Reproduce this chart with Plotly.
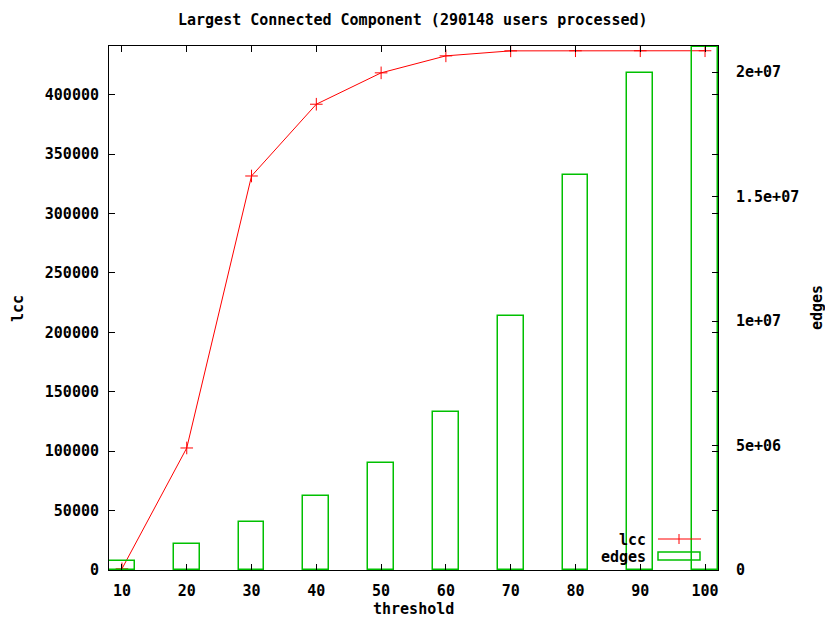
import plotly.graph_objects as go

thresholds = [10, 20, 30, 40, 50, 60, 70, 80, 90, 100]
lcc = [1000, 102700, 331600, 392000, 418400, 432700, 436900, 437000, 437000, 437000]
edges = [360000, 1040000, 1930000, 2970000, 4300000, 6350000, 10200000, 15860000, 19960000, 21000000]

x_ticks = [10, 20, 30, 40, 50, 60, 70, 80, 90, 100]
y_ticks = [0, 50000, 100000, 150000, 200000, 250000, 300000, 350000, 400000]
y_labels = [str(v) for v in y_ticks]
y2_ticks = [0, 5e6, 1e7, 1.5e7, 2e7]
y2_labels = ["0", "5e+06", "1e+07", "1.5e+07", "2e+07"]

RED = "#ff0000"
GREEN = "#00c000"
FONT = dict(family="DejaVu Sans Mono", size=15, color="black", weight="bold")

# plot area in pixels
L, R, T, B = 109, 718, 46, 570
W, H = R - L, B - T


def px(xp):
    return (xp - L) / W


def py(yp):
    return (B - yp) / H


fig = go.Figure()
fig.add_trace(go.Scatter(
    x=thresholds, y=lcc, mode="lines+markers", name="lcc",
    line=dict(color=RED, width=1),
    marker=dict(symbol="cross-thin", size=9, line=dict(color=RED, width=1), color=RED),
    showlegend=False,
))
fig.add_trace(go.Bar(
    x=thresholds, y=edges, width=4, name="edges", yaxis="y2",
    marker=dict(color="rgba(0,0,0,0)", line=dict(color=GREEN, width=1.5)),
    showlegend=False,
))

axis_common = dict(
    showgrid=False, zeroline=False, showline=True, linecolor="black", linewidth=1,
    ticks="inside", ticklen=6, tickwidth=1, tickcolor="black", tickfont=FONT,
)

fig.update_layout(
    width=825, height=619,
    margin=dict(l=L, r=825 - R, t=T, b=619 - B),
    plot_bgcolor="white", paper_bgcolor="white",
    font=FONT,
    bargap=0,
    xaxis=dict(range=[8, 102], tickvals=x_ticks, mirror="ticks",
               ticklabelstandoff=7, **axis_common),
    yaxis=dict(range=[0, 441000], tickvals=y_ticks, ticktext=y_labels, mirror="ticks",
               ticklabelstandoff=6, **axis_common),
    yaxis2=dict(range=[0, 2.105e7], tickvals=y2_ticks, ticktext=y2_labels,
                overlaying="y", side="right", mirror=False,
                ticklabelstandoff=14, **axis_common),
    annotations=[
        dict(text="Largest Connected Component (290148 users processed)", xref="paper", yref="paper",
             x=px(413), y=py(20), showarrow=False, font=FONT, xanchor="center", yanchor="middle"),
        dict(text="lcc", xref="paper", yref="paper", x=px(18), y=py(308), textangle=-90,
             showarrow=False, font=FONT, xanchor="center", yanchor="middle"),
        dict(text="edges", xref="paper", yref="paper", x=px(817), y=py(308), textangle=-90,
             showarrow=False, font=FONT, xanchor="center", yanchor="middle"),
        dict(text="threshold", xref="paper", yref="paper", x=px(413), y=py(609),
             showarrow=False, font=FONT, xanchor="center", yanchor="middle"),
        dict(text="lcc", xref="paper", yref="paper", x=px(648), y=py(540),
             showarrow=False, font=FONT, xanchor="right", yanchor="middle"),
        dict(text="edges", xref="paper", yref="paper", x=px(648), y=py(557),
             showarrow=False, font=FONT, xanchor="right", yanchor="middle"),
    ],
    shapes=[
        dict(type="line", xref="paper", yref="paper", x0=px(658), x1=px(701), y0=py(539), y1=py(539),
             line=dict(color=RED, width=1)),
        dict(type="line", xref="paper", yref="paper", x0=px(679), x1=px(679), y0=py(534), y1=py(544),
             line=dict(color=RED, width=1)),
        dict(type="rect", xref="paper", yref="paper", x0=px(658), x1=px(700), y0=py(560), y1=py(552),
             line=dict(color=GREEN, width=1.5), fillcolor="rgba(0,0,0,0)"),
    ],
)

fig.write_html("out.html")
